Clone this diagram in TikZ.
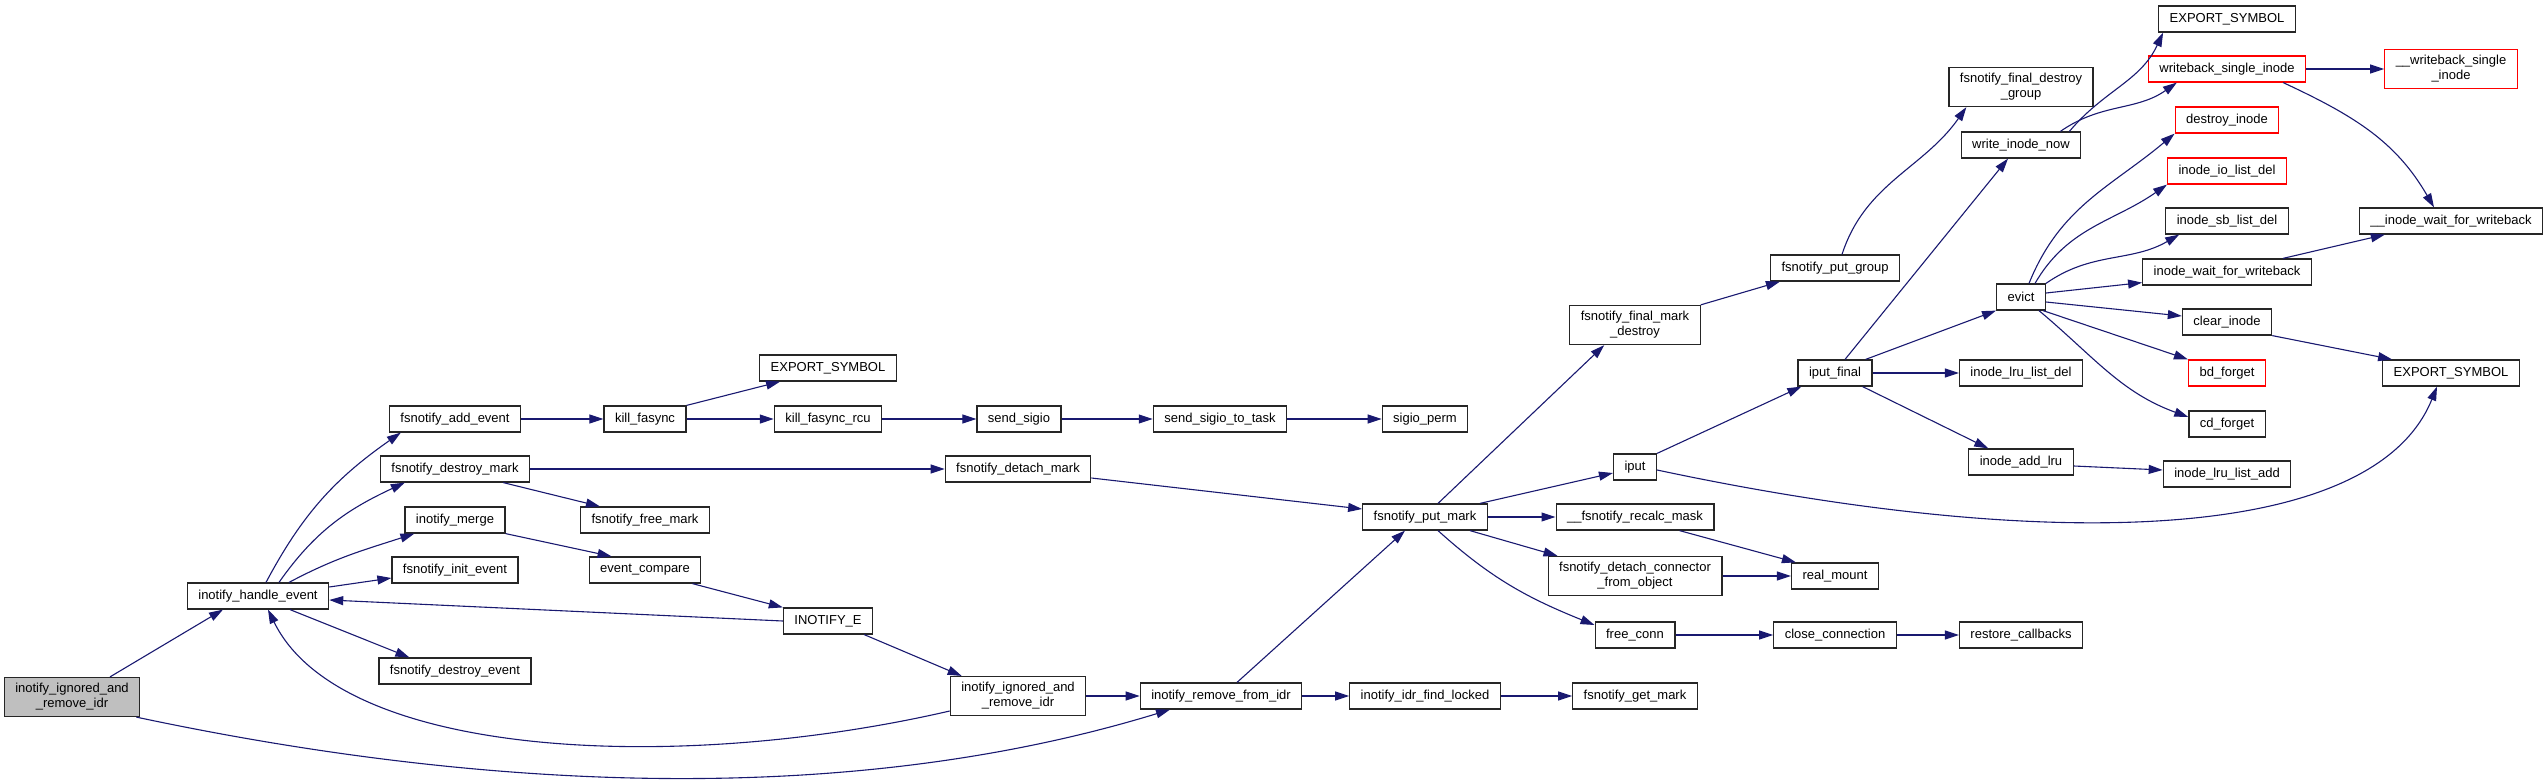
\documentclass[tikz,border=0pt]{standalone}
\usepackage{fontspec}
\setmainfont{Liberation Sans}
\usepackage{xcolor}
\usepackage{tikz}
\usetikzlibrary{arrows.meta, positioning}

\definecolor{edgeblue}{HTML}{191970}
\definecolor{rootgray}{HTML}{BFBFBF}

\begin{document}
\begin{tikzpicture}[
        x=1pt, y=1pt,
        >={Triangle[length=14pt, width=9pt]},
        fn/.style={draw=black!85, line width=1.2pt, fill=white,
          minimum height=26pt, inner xsep=11pt, inner ysep=6pt,
          align=center, font=\fontsize{13}{15}\selectfont},
        root/.style={fn, fill=rootgray},
        ext/.style={fn, draw=red},
        call/.style={->, color=edgeblue, line width=1.1pt},
      ]
      \useasboundingbox (0,0) rectangle (2548,-779);

      % Functions
      \node[root] (ignA)    at (72,-697)   {inotify\_ignored\_and\\\_remove\_idr};
      \node[fn]   (handle)  at (258,-596)  {inotify\_handle\_event};
      \node[fn]   (addev)   at (455,-419)  {fsnotify\_add\_event};
      \node[fn]   (dmark)   at (455,-469)  {fsnotify\_destroy\_mark};
      \node[fn]   (merge)   at (455,-520)  {inotify\_merge};
      \node[fn]   (initev)  at (455,-570)  {fsnotify\_init\_event};
      \node[fn]   (dev)     at (455,-671)  {fsnotify\_destroy\_event};
      \node[fn]   (kfa)     at (645,-419)  {kill\_fasync};
      \node[fn]   (fmark)   at (645,-520)  {fsnotify\_free\_mark};
      \node[fn]   (evcmp)   at (645,-570)  {event\_compare};
      \node[fn]   (expA)    at (828,-368)  {EXPORT\_SYMBOL};
      \node[fn]   (kfrcu)   at (828,-419)  {kill\_fasync\_rcu};
      \node[fn]   (inE)     at (828,-621)  {INOTIFY\_E};
      \node[fn]   (sigio)   at (1019,-419) {send\_sigio};
      \node[fn]   (detmark) at (1018,-469) {fsnotify\_detach\_mark};
      \node[fn]   (ignB)    at (1018,-696) {inotify\_ignored\_and\\\_remove\_idr};
      \node[fn]   (sigtask) at (1220,-419) {send\_sigio\_to\_task};
      \node[fn]   (rmidr)   at (1221,-696) {inotify\_remove\_from\_idr};
      \node[fn]   (sigperm) at (1425,-419) {sigio\_perm};
      \node[fn]   (putmark) at (1425,-517) {fsnotify\_put\_mark};
      \node[fn]   (findl)   at (1425,-696) {inotify\_idr\_find\_locked};
      \node[fn]   (fmd)     at (1635,-325) {fsnotify\_final\_mark\\\_destroy};
      \node[fn]   (iput)    at (1635,-467) {iput};
      \node[fn]   (recalc)  at (1635,-517) {\_\_fsnotify\_recalc\_mask};
      \node[fn]   (detconn) at (1635,-576) {fsnotify\_detach\_connector\\\_from\_object};
      \node[fn]   (freeconn) at (1635,-635) {free\_conn};
      \node[fn]   (getmark) at (1635,-696) {fsnotify\_get\_mark};
      \node[fn]   (putgrp)  at (1835,-268) {fsnotify\_put\_group};
      \node[fn]   (iputf)   at (1835,-373) {iput\_final};
      \node[fn]   (rmount)  at (1835,-576) {real\_mount};
      \node[fn]   (closec)  at (1835,-635) {close\_connection};
      \node[fn]   (fdg)     at (2021,-87)  {fsnotify\_final\_destroy\\\_group};
      \node[fn]   (winow)   at (2021,-145) {write\_inode\_now};
      \node[fn]   (evict)   at (2021,-297) {evict};
      \node[fn]   (lrudel)  at (2021,-373) {inode\_lru\_list\_del};
      \node[fn]   (addlru)  at (2021,-462) {inode\_add\_lru};
      \node[fn]   (restcb)  at (2021,-635) {restore\_callbacks};
      \node[fn]   (expB)    at (2227,-19)  {EXPORT\_SYMBOL};
      \node[ext]  (wbsi)    at (2227,-69)  {writeback\_single\_inode};
      \node[ext]  (dinode)  at (2227,-120) {destroy\_inode};
      \node[ext]  (iolist)  at (2227,-171) {inode\_io\_list\_del};
      \node[fn]   (sblist)  at (2227,-221) {inode\_sb\_list\_del};
      \node[fn]   (iwait)   at (2227,-272) {inode\_wait\_for\_writeback};
      \node[fn]   (clri)    at (2227,-322) {clear\_inode};
      \node[ext]  (bdf)     at (2227,-373) {bd\_forget};
      \node[fn]   (cdf)     at (2227,-424) {cd\_forget};
      \node[fn]   (lruadd)  at (2227,-474) {inode\_lru\_list\_add};
      \node[ext]  (uwbsi)   at (2451,-69)  {\_\_writeback\_single\\\_inode};
      \node[fn]   (uiwait)  at (2451,-221) {\_\_inode\_wait\_for\_writeback};
      \node[fn]   (expC)    at (2451,-373) {EXPORT\_SYMBOL};

      % Calls, left part
      \path[call]
      ([xshift=38pt]ignA.north) edge ([xshift=-35pt]handle.south)
      ([yshift=9pt]handle.east) edge ([yshift=-8pt]initev.west)
      ([xshift=32pt]handle.south) edge ([xshift=31pt]dev.north west)
      (inE.west) edge ([yshift=-4pt]handle.east)
      (addev) edge (kfa)
      (kfa.north east) edge ([xshift=21pt]expA.south west)
      (kfa) edge (kfrcu)
      (kfrcu) edge (sigio)
      (sigio) edge (sigtask)
      (sigtask) edge (sigperm)
      (dmark) edge (detmark)
      ([xshift=-27pt]dmark.south east) edge ([xshift=20pt]fmark.north west)
      (merge.south east) edge ([xshift=23pt]evcmp.north west)
      ([xshift=-9pt]evcmp.south east) edge (inE.north west)
      ([xshift=-9pt]inE.south east) edge ([xshift=12pt]ignB.north west)
      ([yshift=-9pt]detmark.east) edge ([yshift=8pt]putmark.west)
      (ignB) edge (rmidr)
      ([xshift=16pt]rmidr.north) edge ([xshift=-20pt]putmark.south)
      (rmidr) edge (findl)
      (findl) edge (getmark);

      \draw[call] ([xshift=-4pt]ignA.south east)
        .. controls +(-12:344) and +(197:344) .. ([xshift=-51pt]rmidr.south);
      \draw[call] ([xshift=8pt]handle.north)
        .. controls +(62:79) and +(215:79) .. ([xshift=12pt]addev.south west);
      \draw[call] ([xshift=21pt]handle.north)
        .. controls +(55:63) and +(205:63) .. ([xshift=25pt]dmark.south west);
      \draw[call] ([xshift=31pt]handle.north)
        .. controls +(28:53) and +(198:53) .. ([xshift=10pt]merge.south west);
      \draw[call] ([yshift=-15pt]ignB.west)
        .. controls +(193:278) and +(-64:167) .. ([xshift=10pt]handle.south);

      % Calls, right part
      \path[call]
      ([xshift=13pt]putmark.north) edge ([xshift=35pt]fmd.south west)
      ([xshift=-8pt]putmark.north east) edge ([yshift=-6pt]iput.west)
      (putmark) edge (recalc)
      ([xshift=-18pt]putmark.south east) edge ([xshift=10pt]detconn.north west)
      (fmd.north east) edge ([xshift=10pt]putgrp.south west)
      (iput.north east) edge ([xshift=4pt]iputf.south west)
      ([xshift=-35pt]recalc.south east) edge ([xshift=5pt]rmount.north west)
      (detconn) edge (rmount)
      (freeconn) edge (closec)
      (closec) edge (restcb)
      ([xshift=10pt]iputf.north) edge ([xshift=-13pt]winow.south)
      ([xshift=-7pt]iputf.north east) edge (evict.south west)
      (iputf) edge (lrudel)
      ([xshift=-10pt]iputf.south east) edge ([xshift=20pt]addlru.north west)
      ([yshift=-4pt]addlru.east) edge ([yshift=4pt]lruadd.west)
      (wbsi) edge (uwbsi)
      ([yshift=4pt]evict.east) edge ([yshift=3pt]iwait.south west)
      ([yshift=-5pt]evict.east) edge ([yshift=6pt]clri.west)
      ([xshift=-3pt]evict.south east) edge (bdf.north west)
      ([xshift=-29pt]iwait.north east) edge ([xshift=26pt]uiwait.south west)
      (clri.south east) edge ([xshift=10pt]expC.north west);

      \draw[call] ([xshift=13pt]putmark.south)
        .. controls +(-42:72) and +(158:72) .. ([yshift=10pt]freeconn.west);
      \draw[call] ([xshift=7pt]putgrp.north)
        .. controls +(72:75) and +(235:75) .. ([xshift=18pt]fdg.south west);
      \draw[call] ([yshift=-3pt]iput.east)
        .. controls +(-12:400) and +(-112:170) .. ([xshift=-14pt]expC.south);
      \draw[call] ([xshift=-12pt]winow.north east)
        .. controls +(50:54) and +(245:54) .. ([xshift=5pt]expB.south west);
      \draw[call] ([xshift=-21pt]winow.north east)
        .. controls +(35:50) and +(215:50) .. ([xshift=29pt]wbsi.south west);
      \draw[call] ([xshift=-23pt]wbsi.south east)
        .. controls +(-25:77) and +(120:77) .. ([xshift=-17pt]uiwait.north);
      \draw[call] ([xshift=8pt]evict.north)
        .. controls +(68:83) and +(220:83) .. (dinode.south west);
      \draw[call] ([xshift=14pt]evict.north)
        .. controls +(60:65) and +(215:65) .. (iolist.south west);
      \draw[call] (evict.north east)
        .. controls +(35:56) and +(210:56) .. ([xshift=14pt]sblist.south west);
      \draw[call] ([xshift=-7pt]evict.south east)
        .. controls +(-40:72) and +(160:72) .. ([yshift=7pt]cdf.west);

    \end{tikzpicture}
\end{document}
